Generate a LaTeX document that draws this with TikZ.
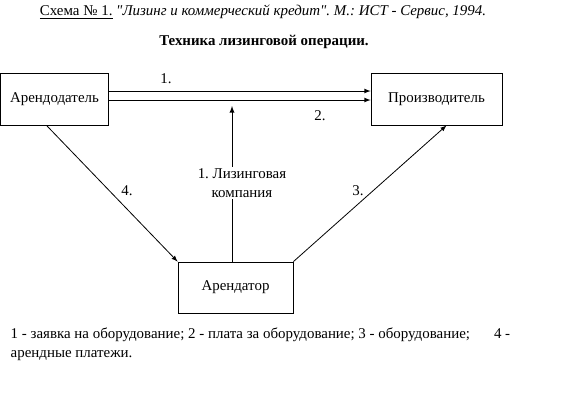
\documentclass[tikz,border=0pt]{standalone}
\usepackage{fontspec}
\setmainfont{Liberation Serif}
\usetikzlibrary{calc}
\frenchspacing

\begin{document}
\begin{tikzpicture}[x=0.75pt,y=0.75pt,font=\fontsize{11.2}{14.25}\selectfont,
  box/.style={draw,line width=0.6pt,inner sep=0pt},
  flow/.style={line width=0.6pt,-latex}]
\useasboundingbox (0,0) rectangle (577,-405);

%titles
\node (src) at (263,-12) {\underline{Схема № 1.} \textit{\textquotedbl Лизинг и коммерческий кредит\textquotedbl. М.: ИСТ - Сервис, 1994.}};
\node (title) at (264,-42) {\bfseries Техника лизинговой операции.};

%lessor
\node[box,minimum width=81pt,minimum height=39pt] (lessor) at (54.5,-99) {Арендодатель};
%maker
\node[box,minimum width=98.25pt,minimum height=39pt] (maker) at (436.5,-99) {Производитель};
%lessee
\node[box,minimum width=86.25pt,minimum height=38.25pt] (lessee) at (235.5,-287.5) {Арендатор};

%lessor->maker, 1. and 2.
\draw[flow] ($(lessor.east)+(0,8)$) -- ($(maker.west)+(0,8)$);
\draw[flow] ($(lessor.east)+(0,-1)$) -- ($(maker.west)+(0,-1)$);
\node (n1) at (166,-79) {1.};
\node (n2) at (320,-116) {2.};

%lessee->leasing company
\coordinate (lk) at (232,-106);
\draw[line width=0.75pt,-latex] (lessee.north -| lk) -- (lk);
\node[fill=white,align=center,inner sep=1pt] (firm) at (242,-183) {1. Лизинговая\\компания};

%lessor->lessee, 4.
\draw[flow] ($(lessor.south)+(-8,0)$) -- (lessee.north west);
\node (n4) at (127,-191) {4.};
%lessee->maker, 3.
\draw[flow] (lessee.north east) -- ($(maker.south)+(10,0)$);
\node (n3) at (358,-191) {3.};

%legend
\node[anchor=base west,align=left] (legend) at (6,-357) {1 - заявка на оборудование; 2 - плата за оборудование; 3 - оборудование;\hspace{18pt}4 -\\арендные платежи.};

\end{tikzpicture}
\end{document}
